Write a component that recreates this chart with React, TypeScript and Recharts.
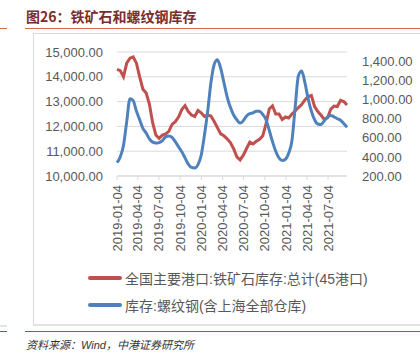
import { CartesianGrid, Line, LineChart, XAxis, YAxis } from "recharts";

// weekly port data, read every second week off the picture
const dates = [
  "2019-01-04", "2019-01-18", "2019-02-01", "2019-02-15", "2019-03-01", "2019-03-15",
  "2019-03-29", "2019-04-12", "2019-04-26", "2019-05-10", "2019-05-24", "2019-06-07",
  "2019-06-21", "2019-07-05", "2019-07-19", "2019-08-02", "2019-08-16", "2019-08-30",
  "2019-09-13", "2019-09-27", "2019-10-11", "2019-10-25", "2019-11-08", "2019-11-22",
  "2019-12-06", "2019-12-20", "2020-01-03", "2020-01-17", "2020-01-31", "2020-02-14",
  "2020-02-28", "2020-03-13", "2020-03-27", "2020-04-10", "2020-04-24", "2020-05-08",
  "2020-05-22", "2020-06-05", "2020-06-19", "2020-07-03", "2020-07-17", "2020-07-31",
  "2020-08-14", "2020-08-28", "2020-09-11", "2020-09-25", "2020-10-09", "2020-10-23",
  "2020-11-06", "2020-11-20", "2020-12-04", "2020-12-18", "2021-01-01", "2021-01-15",
  "2021-01-29", "2021-02-12", "2021-02-26", "2021-03-12", "2021-03-26", "2021-04-09",
  "2021-04-23", "2021-05-07", "2021-05-21", "2021-06-04", "2021-06-18", "2021-07-02",
  "2021-07-16", "2021-07-30", "2021-08-13", "2021-08-27", "2021-09-10", "2021-09-24",
];

const ironOre = [
  14300, 14250, 14000, 14550, 14750, 14800, 14550, 14000, 13500, 13350, 12900, 12150,
  11650, 11520, 11650, 11700, 11800, 12080, 12190, 12380, 12680, 12840, 12600, 12460,
  12400, 12640, 12550, 12400, 12460, 12420, 12200, 11950, 11700, 11620, 11500, 11350,
  11100, 10770, 10650, 10840, 11110, 11370, 11290, 11400, 11480, 11620, 12100, 12700,
  12830, 12500, 12500, 12280, 12380, 12340, 12500, 12620, 12760, 12880, 13070, 13200,
  13250, 12800, 12600, 12450, 12280, 12350, 12700, 12820, 12800, 13050, 13000, 12860,
];

const rebar = [
  340, 400, 520, 770, 1010, 990, 880, 790, 700, 650, 590, 555,
  545, 550, 570, 610, 620, 605, 560, 505, 455, 390, 325, 290,
  285, 320, 420, 630, 880, 1180, 1370, 1420, 1330, 1180, 1030, 920,
  840, 790, 755, 780, 830, 855, 862, 880, 878, 845, 790, 680,
  560, 460, 390, 362, 375, 440, 570, 920, 1250, 1300, 1180, 1010,
  880, 790, 745, 740, 780, 820, 835, 820, 800, 785, 750, 710,
];

const xTicks = [
  "2019-01-04", "2019-04-04", "2019-07-04", "2019-10-04", "2020-01-04", "2020-04-04",
  "2020-07-04", "2020-10-04", "2021-01-04", "2021-04-04", "2021-07-04",
];
const leftTicks = [10000, 11000, 12000, 13000, 14000, 15000];
const rightTicks = [200, 400, 600, 800, 1000, 1200, 1400];

const seriesNames = ["全国主要港口:铁矿石库存:总计(45港口)", "库存:螺纹钢(含上海全部仓库)"];

const toTime = (s: string) => {
  const [y, m, d] = s.split("-").map(Number);
  return Date.UTC(y, m - 1, d);
};

const data = dates.map((d, i) => ({ t: toTime(d), ore: ironOre[i], rebar: rebar[i] }));
const tickTimes = xTicks.map(toTime);

const RED = "#C0504D";
const BLUE = "#4F81BD";
const AXIS_FONT = "'Liberation Sans', Arial, sans-serif";
const CJK_FONT = "'Liberation Sans', 'Noto Sans CJK SC', sans-serif";

const fmt = (v: number) =>
  v.toLocaleString("en-US", { minimumFractionDigits: 2, maximumFractionDigits: 2 });

const fmtDate = (t: number) => new Date(t).toISOString().slice(0, 10);

function DateTick(props: any) {
  const { x, y, payload } = props;
  return (
    <text
      x={x}
      y={y}
      transform={`rotate(-90, ${x}, ${y})`}
      textAnchor="end"
      dy="0.35em"
      fill="#595959"
      fontSize={13}
      fontFamily={AXIS_FONT}
    >
      {fmtDate(payload.value)}
    </text>
  );
}

function LegendRow({ color, label, top }: { color: string; label: string; top: number }) {
  return (
    <div style={{ position: "absolute", left: 88, top, height: 20, display: "flex", alignItems: "center" }}>
      <div style={{ width: 34, height: 4, borderRadius: 2, background: color }} />
      <span style={{ marginLeft: 3, fontSize: 14, color: "#595959", fontFamily: CJK_FONT, whiteSpace: "nowrap" }}>
        {label}
      </span>
    </div>
  );
}

export default function App() {
  return (
    <div
      style={{
        position: "absolute",
        left: 0,
        top: 0,
        width: 420,
        height: 359,
        overflow: "hidden",
        background: "#fff",
      }}
    >
      <div
        style={{
          position: "absolute",
          left: 26,
          top: 6,
          fontSize: 14,
          fontWeight: 700,
          color: "#7b2d2d",
          fontFamily: "'Noto Sans CJK SC', sans-serif",
          whiteSpace: "nowrap",
          lineHeight: "20px",
        }}
      >
        图26：铁矿石和螺纹钢库存
      </div>
      <div style={{ position: "absolute", left: 25, top: 28, width: 400, height: 1, background: "#d3694c" }} />
      <div style={{ position: "absolute", left: 0, top: 28, width: 7, height: 1, background: "#d3694c" }} />

      <div
        style={{
          position: "absolute",
          left: 33,
          top: 33,
          width: 400,
          height: 290,
          borderTop: "1px solid #d9d9d9",
          borderLeft: "1px solid #d9d9d9",
          borderBottom: "2px solid #e3e3e3",
        }}
      />
      <div style={{ position: "absolute", left: 0, top: 325, width: 7, height: 2, background: "#e3e3e3" }} />

      <div style={{ position: "absolute", left: 0, top: 0 }}>
        <LineChart width={420} height={262} data={data} margin={{ top: 52, right: 0, bottom: 0, left: 0 }}>
          <CartesianGrid yAxisId="left" vertical={false} stroke="#d9d9d9" />
          <XAxis
            dataKey="t"
            type="number"
            scale="time"
            domain={[data[0].t, data[data.length - 1].t]}
            ticks={tickTimes}
            tick={<DateTick />}
            height={86}
            tickSize={4}
            tickMargin={5}
            stroke="#d9d9d9"
            interval={0}
          />
          <YAxis
            yAxisId="left"
            domain={[10000, 15000]}
            ticks={leftTicks}
            tickFormatter={fmt}
            width={117}
            axisLine={false}
            tickLine={false}
            tickSize={0}
            tickMargin={14}
            interval={0}
            tick={{ fill: "#595959", fontSize: 13, fontFamily: AXIS_FONT }}
          />
          <YAxis
            yAxisId="right"
            orientation="right"
            domain={[200, 1500]}
            ticks={rightTicks}
            tickFormatter={fmt}
            width={73}
            axisLine={false}
            tickLine={false}
            tickSize={0}
            tickMargin={15}
            interval={0}
            tick={{ fill: "#595959", fontSize: 13, fontFamily: AXIS_FONT, textAnchor: "start" }}
          />
          <Line
            yAxisId="left"
            type="linear"
            dataKey="ore"
            name={seriesNames[0]}
            stroke={RED}
            strokeWidth={3}
            dot={false}
            isAnimationActive={false}
          />
          <Line
            yAxisId="right"
            type="monotone"
            dataKey="rebar"
            name={seriesNames[1]}
            stroke={BLUE}
            strokeWidth={3}
            dot={false}
            isAnimationActive={false}
          />
        </LineChart>
      </div>

      <LegendRow color={RED} label={seriesNames[0]} top={268} />
      <LegendRow color={BLUE} label={seriesNames[1]} top={295} />

      <div style={{ position: "absolute", left: 25, top: 331, width: 400, height: 1, background: "#c0432b" }} />
      <div style={{ position: "absolute", left: 0, top: 331, width: 7, height: 1, background: "#c0432b" }} />

      <div
        style={{
          position: "absolute",
          left: 26,
          top: 337,
          fontSize: 11,
          fontStyle: "italic",
          color: "#333",
          fontFamily: "'Liberation Sans', 'Noto Sans CJK SC', sans-serif",
          whiteSpace: "nowrap",
          lineHeight: "16px",
        }}
      >
        资料来源：Wind，中港证券研究所
      </div>
    </div>
  );
}
